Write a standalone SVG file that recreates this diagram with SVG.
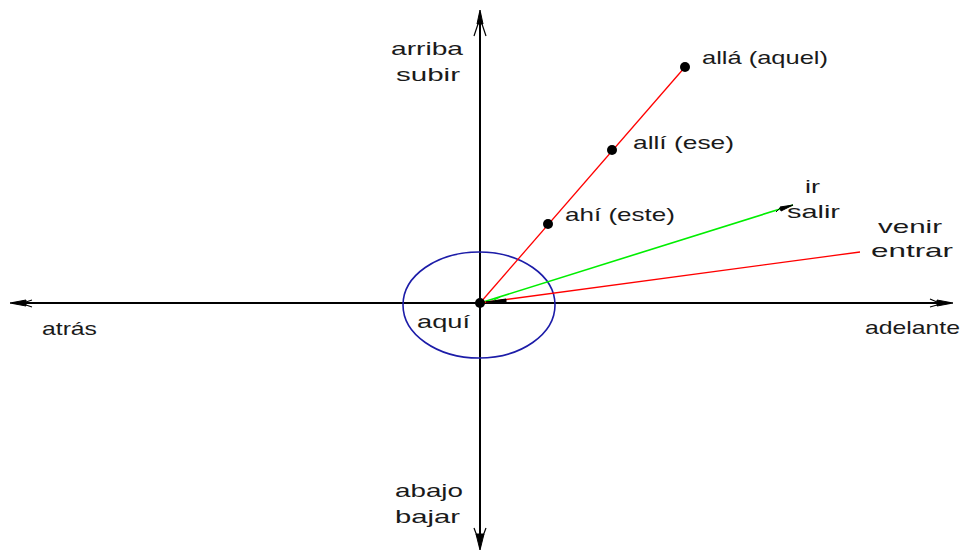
<svg xmlns="http://www.w3.org/2000/svg" width="962" height="552" viewBox="0 0 962 552">
<defs>
<style>
.t{font-family:"Liberation Sans",Arial,sans-serif;font-size:19px;fill:#1a1a1a}
.ax{stroke:#000;stroke-width:2;fill:none}
.red{stroke:#ff0000;stroke-width:1.3;fill:none}
.grn{stroke:#00ee00;stroke-width:1.6;fill:none}
.dot{fill:#000}
.ah{fill:#000;stroke:#000;stroke-width:1}
</style>
</defs>
<rect width="962" height="552" fill="#fff"/>
<g id="connectors">
<line class="ax" x1="480" y1="12" x2="480" y2="548"/>
<line class="ax" x1="12" y1="303" x2="950" y2="303"/>
<!-- axis arrowheads -->
<path class="ah" d="M480,10 L477,24 L483,24 Z"/>
<path d="M478,24 L474,36 M482,24 L486,36" stroke="#000" stroke-width="1.2" fill="none"/>
<path class="ah" d="M480,550 L476,534 L484,534 Z"/>
<path d="M477,536 L474,528 M483,536 L486,528" stroke="#000" stroke-width="1.2" fill="none"/>
<path class="ah" d="M10,303 L26,300 L26,306 Z"/>
<path d="M26,302 L32,300 M26,305 L32,307" stroke="#000" stroke-width="1.2" fill="none"/>
<path class="ah" d="M953,303 L937,300 L937,306 Z"/>
<path d="M937,302 L930,299 M937,305 L930,307" stroke="#000" stroke-width="1.2" fill="none"/>
<ellipse cx="479" cy="305" rx="76" ry="53" fill="none" stroke="#1c1ca8" stroke-width="1.6"/>
<line class="red" x1="480" y1="303" x2="685" y2="67"/>
<line class="grn" x1="480" y1="303" x2="793" y2="205"/>
<line class="red" x1="480" y1="303" x2="860" y2="252"/>
<path class="ah" d="M793,205 L780,207 L781,211 Z"/>
<path d="M780,208 L776,212" stroke="#000" stroke-width="1" fill="none"/>
<path class="ah" d="M486,302 L506,299 L506,303 Z"/>
<path d="M494,300 L500,297" stroke="#00ee00" stroke-width="1.2" fill="none"/>
</g>
<g id="center"><circle class="dot" cx="480" cy="303" r="5"/><text class="t" x="417" y="328" textLength="53" lengthAdjust="spacingAndGlyphs">aquí</text></g>
<g id="ahi"><circle class="dot" cx="548" cy="224" r="5"/><text class="t" x="565" y="221" textLength="110" lengthAdjust="spacingAndGlyphs">ahí (este)</text></g>
<g id="alli"><circle class="dot" cx="612" cy="150" r="5"/><text class="t" x="633" y="149" textLength="101" lengthAdjust="spacingAndGlyphs">allí (ese)</text></g>
<g id="alla"><circle class="dot" cx="685" cy="67" r="5"/><text class="t" x="702" y="64" textLength="126" lengthAdjust="spacingAndGlyphs">allá (aquel)</text></g>
<g id="arriba"><text class="t" x="391" y="55" textLength="72" lengthAdjust="spacingAndGlyphs">arriba</text><text class="t" x="396" y="81" textLength="64" lengthAdjust="spacingAndGlyphs">subir</text></g>
<g id="abajo"><text class="t" x="395" y="497" textLength="68" lengthAdjust="spacingAndGlyphs">abajo</text><text class="t" x="395" y="523" textLength="65" lengthAdjust="spacingAndGlyphs">bajar</text></g>
<g id="atras"><text class="t" x="42" y="335" textLength="55" lengthAdjust="spacingAndGlyphs">atrás</text></g>
<g id="adelante"><text class="t" x="865" y="334" textLength="95" lengthAdjust="spacingAndGlyphs">adelante</text></g>
<g id="ir"><text class="t" x="805" y="193" textLength="15" lengthAdjust="spacingAndGlyphs">ir</text><text class="t" x="787" y="218" textLength="53" lengthAdjust="spacingAndGlyphs">salir</text></g>
<g id="venir"><text class="t" x="878" y="233" textLength="64" lengthAdjust="spacingAndGlyphs">venir</text><text class="t" x="871" y="257" textLength="82" lengthAdjust="spacingAndGlyphs">entrar</text></g>
</svg>
